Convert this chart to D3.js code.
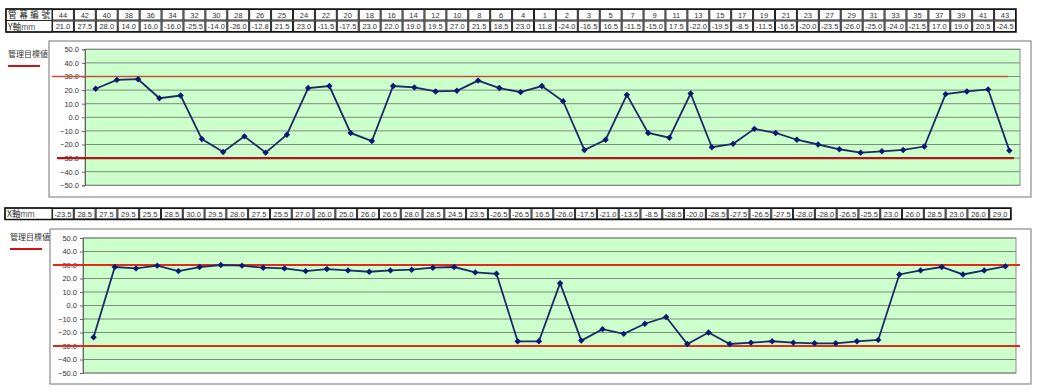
<!DOCTYPE html>
<html><head><meta charset="utf-8">
<script src="https://cdn.jsdelivr.net/npm/d3@7"></script>
<style>
html,body{margin:0;padding:0;background:#fff;}
svg{display:block;}
</style></head>
<body><svg id="c" width="1037" height="392"></svg>
<script>
const pipeNumbers = ["44","42","40","38","36","34","32","30","28","26","25","24","22","20","18","16","14","12","10","8","6","4","1","2","3","5","7","9","11","13","15","17","19","21","23","27","29","31","33","35","37","39","41","43"];
const yAxisMm = [21.0,27.5,28.0,14.0,16.0,-16.0,-25.5,-14.0,-26.0,-12.8,21.5,23.0,-11.5,-17.5,23.0,22.0,19.0,19.5,27.0,21.5,18.5,23.0,11.8,-24.0,-16.5,16.5,-11.5,-15.0,17.5,-22.0,-19.5,-8.5,-11.5,-16.5,-20.0,-23.5,-26.0,-25.0,-24.0,-21.5,17.0,19.0,20.5,-24.5];
const xAxisMm = [-23.5,28.5,27.5,29.5,25.5,28.5,30.0,29.5,28.0,27.5,25.5,27.0,26.0,25.0,26.0,26.5,28.0,28.5,24.5,23.5,-26.5,-26.5,16.5,-26.0,-17.5,-21.0,-13.5,-8.5,-28.5,-20.0,-28.5,-27.5,-26.5,-27.5,-28.0,-28.0,-26.5,-25.5,23.0,26.0,28.5,23.0,26.0,29.0];
const yTicks = [50,40,30,20,10,0,-10,-20,-30,-40,-50];
const targetValues = [30,-30];
const labelPipe = "管幕編號";
const labelY = "Y軸mm";
const labelX = "X軸mm";
const legendLabel = "管理目標値";

const svg = d3.select("#c");
const CJK = "'Noto Sans CJK TC','Noto Sans CJK JP',sans-serif";
const NUM = "'Liberation Sans','DejaVu Sans',sans-serif";

function drawTable(g, x0, x1, rows, yTop, rowH) {
  const xb = d3.scaleBand().domain(pipeNumbers).range([52, x1]);
  rows.forEach((r, ri) => {
    const y = yTop + ri * rowH;
    g.append("rect").attr("x", x0).attr("y", y).attr("width", 52 - x0).attr("height", rowH)
      .attr("fill", "#fff").attr("stroke", "#222").attr("stroke-width", 1);
    const t = g.append("text").attr("x", x0 + 2).attr("y", y + rowH - 2.2)
      .attr("font-size", 8.6).attr("fill", "#222");
    if (r.label.endsWith("mm")) {
      t.append("tspan").attr("font-family", CJK).text(r.label.slice(0, -2));
      t.append("tspan").attr("font-family", NUM).attr("font-size", 8.5).attr("fill", "#555").text("mm");
    } else {
      t.attr("font-family", CJK).attr("textLength", 42).attr("lengthAdjust", "spacing").text(r.label);
    }
    g.selectAll(null).data(pipeNumbers).enter().append("rect")
      .attr("x", d => xb(d) + 0.5).attr("y", y + 0.5)
      .attr("width", xb.bandwidth() - 1).attr("height", rowH - 1)
      .attr("fill", "#fff").attr("stroke", "#222").attr("stroke-width", 1);
    g.selectAll(null).data(r.values).enter().append("text")
      .attr("x", (d, i) => xb(pipeNumbers[i]) + xb.bandwidth() / 2)
      .attr("y", y + rowH - 3)
      .attr("text-anchor", "middle").attr("font-family", NUM).attr("font-size", 7.5)
      .attr("fill", "#333")
      .text(d => typeof d === "number" ? d.toFixed(1) : d);
  });
  g.append("rect").attr("x", x0).attr("y", yTop).attr("width", x1 - x0).attr("height", rowH * rows.length)
    .attr("fill", "none").attr("stroke", "#111").attr("stroke-width", 1.5);
}

function drawChart(cfg) {
  const g = svg.append("g");
  g.append("rect").attr("x", cfg.box[0]).attr("y", cfg.box[1])
    .attr("width", cfg.box[2] - cfg.box[0]).attr("height", cfg.box[3] - cfg.box[1])
    .attr("fill", "#fff").attr("stroke", "#8a8a8a").attr("stroke-width", 1.2);
  const x = d3.scalePoint().domain(pipeNumbers).range([cfg.plot[0], cfg.plot[2]]).padding(0.5);
  const y = d3.scaleLinear().domain([-50, 50]).range([cfg.plot[3], cfg.plot[1]]);
  g.append("rect").attr("x", cfg.plot[0]).attr("y", cfg.plot[1])
    .attr("width", cfg.plot[2] - cfg.plot[0]).attr("height", cfg.plot[3] - cfg.plot[1])
    .attr("fill", "#ccffcc").attr("stroke", "#8c8c8c").attr("stroke-width", 1);
  g.selectAll(null).data(yTicks).enter().append("line")
    .attr("x1", cfg.plot[0]).attr("x2", cfg.plot[2])
    .attr("y1", d => y(d)).attr("y2", d => y(d))
    .attr("stroke", "#7f8a7f").attr("stroke-width", 1);
  const ax = g.append("g").attr("transform", `translate(${cfg.plot[0]},0)`)
    .call(d3.axisLeft(y).tickValues(yTicks).tickSize(3).tickFormat(d3.format(".1f")));
  ax.select(".domain").attr("stroke", "#666");
  ax.selectAll(".tick line").attr("stroke", "#666");
  ax.selectAll("text").attr("font-family", NUM).attr("font-size", 7.5).attr("fill", "#333")
    .attr("x", -6);
  targetValues.forEach((v, i) => {
    const s = cfg.targets[i];
    g.append("line").attr("x1", s.x1).attr("x2", s.x2)
      .attr("y1", y(v)).attr("y2", y(v))
      .attr("stroke", s.color).attr("stroke-width", s.w);
  });
  const line = d3.line().x((d, i) => x(pipeNumbers[i])).y(d => y(d));
  g.append("path").datum(cfg.values).attr("d", line)
    .attr("fill", "none").attr("stroke", "#1c2a66").attr("stroke-width", 1.8);
  g.selectAll(null).data(cfg.values).enter().append("path")
    .attr("transform", (d, i) => `translate(${x(pipeNumbers[i])},${y(d)})`)
    .attr("d", d3.symbol().type(d3.symbolDiamond2).size(26))
    .attr("fill", "#0a1a70");
  g.append("text").attr("x", cfg.legend[0]).attr("y", cfg.legend[1])
    .attr("font-family", CJK).attr("font-size", 8).attr("fill", "#333").text(legendLabel);
  g.append("line").attr("x1", cfg.legend[0]).attr("x2", cfg.legend[0] + 32)
    .attr("y1", cfg.legend[1] + 9).attr("y2", cfg.legend[1] + 9)
    .attr("stroke", "#cc1111").attr("stroke-width", 2);
}

drawTable(svg.append("g"), 6, 1016, [
  {label: labelPipe, values: pipeNumbers},
  {label: labelY, values: yAxisMm}
], 9, 11.5);

drawChart({
  box: [49, 41, 1031, 197],
  plot: [85, 49.3, 1020, 185.3],
  values: yAxisMm,
  legend: [8, 57],
  targets: [
    {x1: 52, x2: 1008, color: "#c8503a", w: 1.3},
    {x1: 57, x2: 1014, color: "#b01818", w: 2.2}
  ]
});

drawTable(svg.append("g"), 5, 1011, [
  {label: labelX, values: xAxisMm}
], 208, 11.5);

drawChart({
  box: [50, 229, 1031, 384],
  plot: [83, 238, 1016, 373],
  values: xAxisMm,
  legend: [10, 240],
  targets: [
    {x1: 53, x2: 1020, color: "#e02a1a", w: 2},
    {x1: 53, x2: 1020, color: "#e02a1a", w: 2}
  ]
});
</script>
</body></html>
